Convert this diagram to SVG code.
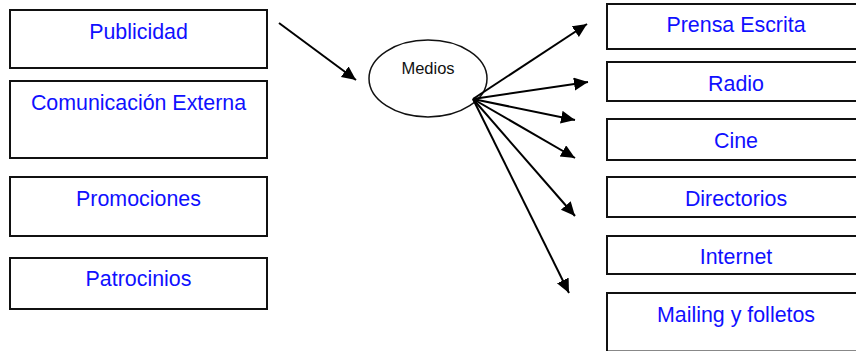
<svg xmlns="http://www.w3.org/2000/svg" width="856" height="351" viewBox="0 0 856 351">
<defs>
<style>
.box{fill:#fff;stroke:#111;stroke-width:2}
.t{font-family:"Liberation Sans",Arial,sans-serif;font-size:21.4px;fill:#1010ff;text-anchor:middle}
.m{font-family:"Liberation Sans",Arial,sans-serif;font-size:16.5px;fill:#111;text-anchor:middle}
.c{stroke:#000;stroke-width:2;fill:none;marker-end:url(#ah)}
</style>
<marker id="ah" markerUnits="userSpaceOnUse" markerWidth="16" markerHeight="14" refX="14" refY="6.5" orient="auto">
<path d="M0,0 L14,6.5 L0,13 z" fill="#000"/>
</marker>
</defs>
<rect width="856" height="351" fill="#fff"/>
<g id="publicidad"><rect class="box" x="10" y="10" width="257" height="58"/><text class="t" x="138.5" y="39">Publicidad</text></g>
<g id="comunicacion"><rect class="box" x="10" y="81" width="257" height="77"/><text class="t" x="138.5" y="110">Comunicación Externa</text></g>
<g id="promociones"><rect class="box" x="10" y="177" width="257" height="59"/><text class="t" x="138.5" y="206">Promociones</text></g>
<g id="patrocinios"><rect class="box" x="10" y="258" width="257" height="51"/><text class="t" x="138.5" y="286">Patrocinios</text></g>
<g id="medios"><ellipse cx="428" cy="78.5" rx="59" ry="38.5" fill="#fff" stroke="#111" stroke-width="1.5"/><text class="m" x="428" y="74">Medios</text></g>
<g id="prensa"><rect class="box" x="607" y="4" width="260" height="45"/><text class="t" x="736" y="32">Prensa Escrita</text></g>
<g id="radio"><rect class="box" x="607" y="62" width="260" height="39"/><text class="t" x="736" y="91">Radio</text></g>
<g id="cine"><rect class="box" x="607" y="119" width="260" height="41"/><text class="t" x="736" y="148">Cine</text></g>
<g id="directorios"><rect class="box" x="607" y="177" width="260" height="40"/><text class="t" x="736" y="206">Directorios</text></g>
<g id="internet"><rect class="box" x="607" y="236" width="260" height="38"/><text class="t" x="736" y="264">Internet</text></g>
<g id="mailing"><rect class="box" x="607" y="293" width="260" height="58.5"/><text class="t" x="736" y="322">Mailing y folletos</text></g>
<g id="connectors">
<line class="c" x1="279" y1="23" x2="356" y2="80"/>
<line class="c" x1="473" y1="99" x2="587" y2="24"/>
<line class="c" x1="473" y1="99" x2="588" y2="82"/>
<line class="c" x1="473" y1="99" x2="575" y2="120"/>
<line class="c" x1="473" y1="99" x2="575" y2="158"/>
<line class="c" x1="473" y1="99" x2="575" y2="216"/>
<line class="c" x1="473" y1="99" x2="569" y2="293"/>
</g>
</svg>
